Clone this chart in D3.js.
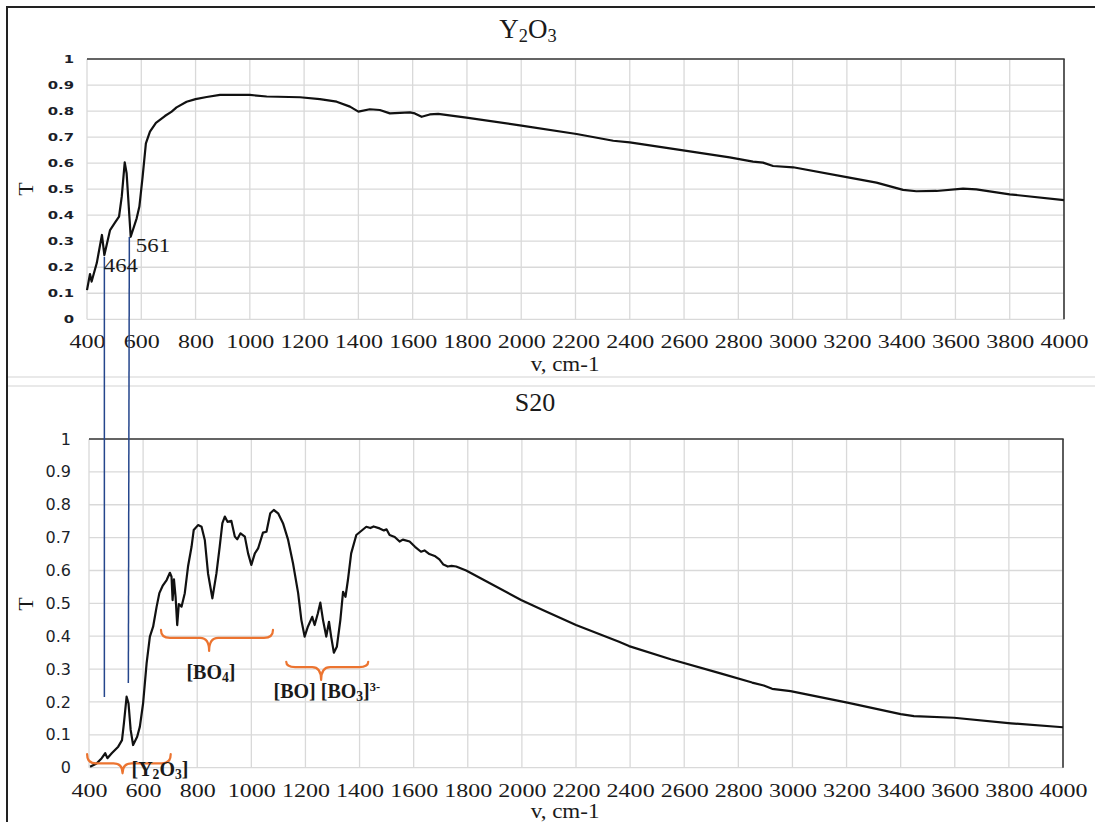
<!DOCTYPE html>
<html>
<head>
<meta charset="utf-8">
<script src="https://cdn.jsdelivr.net/npm/d3@7"></script>
<style>
  html, body { margin: 0; padding: 0; background: #fff; }
  svg { display: block; }
</style>
</head>
<body>
<svg id="chart" width="1095" height="822"></svg>
<script>
// ---------------- DATA ----------------
const xTicks = [400, 600, 800, 1000, 1200, 1400, 1600, 1800, 2000, 2200, 2400, 2600, 2800, 3000, 3200, 3400, 3600, 3800, 4000];
const yTicks = [0, 0.1, 0.2, 0.3, 0.4, 0.5, 0.6, 0.7, 0.8, 0.9, 1];
const yTickLabels = ["0", "0.1", "0.2", "0.3", "0.4", "0.5", "0.6", "0.7", "0.8", "0.9", "1"];

// Y2O3 spectrum: [wavenumber, T]
const y2o3 = [[400,0.112],[411,0.174],[417,0.145],[436,0.216],[455,0.324],[464,0.247],[485,0.343],[503,0.371],[518,0.394],[528,0.471],[539,0.603],[546,0.561],[561,0.317],[583,0.388],[593,0.433],[605,0.548],[617,0.676],[632,0.721],[654,0.755],[687,0.781],[712,0.798],[730,0.814],[767,0.836],[800,0.846],[841,0.854],[890,0.862],[1000,0.862],[1062,0.856],[1185,0.853],[1258,0.846],[1320,0.836],[1369,0.817],[1400,0.798],[1442,0.807],[1479,0.804],[1516,0.791],[1553,0.793],[1590,0.795],[1608,0.791],[1633,0.778],[1663,0.787],[1694,0.789],[1798,0.775],[2001,0.744],[2204,0.712],[2339,0.686],[2400,0.68],[2603,0.648],[2768,0.622],[2854,0.606],[2891,0.602],[2928,0.589],[3002,0.584],[3204,0.545],[3309,0.525],[3407,0.497],[3456,0.492],[3530,0.493],[3628,0.502],[3677,0.499],[3800,0.48],[4000,0.458]];

// S20 spectrum: [wavenumber, T]
const s20 = [[404,0.003],[428,0.013],[447,0.029],[460,0.044],[468,0.029],[484,0.044],[508,0.064],[522,0.084],[529,0.135],[539,0.216],[546,0.196],[554,0.115],[563,0.069],[578,0.094],[588,0.125],[600,0.196],[613,0.318],[625,0.399],[637,0.429],[650,0.49],[660,0.531],[672,0.553],[687,0.571],[699,0.593],[705,0.581],[709,0.51],[714,0.573],[720,0.52],[726,0.434],[732,0.498],[742,0.49],[754,0.531],[766,0.612],[779,0.672],[787,0.723],[803,0.738],[816,0.733],[828,0.693],[840,0.591],[856,0.515],[871,0.591],[883,0.672],[893,0.744],[902,0.764],[912,0.748],[926,0.751],[939,0.703],[948,0.695],[960,0.713],[976,0.703],[988,0.652],[1000,0.617],[1013,0.652],[1025,0.667],[1043,0.715],[1056,0.718],[1070,0.774],[1083,0.784],[1099,0.774],[1117,0.744],[1136,0.693],[1154,0.622],[1173,0.531],[1185,0.449],[1197,0.399],[1209,0.429],[1225,0.459],[1234,0.434],[1246,0.47],[1255,0.502],[1265,0.449],[1277,0.399],[1287,0.444],[1295,0.399],[1305,0.35],[1316,0.368],[1329,0.449],[1339,0.535],[1348,0.52],[1357,0.571],[1369,0.652],[1388,0.708],[1425,0.733],[1440,0.729],[1452,0.734],[1474,0.728],[1490,0.722],[1500,0.725],[1511,0.708],[1530,0.702],[1548,0.688],[1560,0.694],[1585,0.688],[1605,0.672],[1627,0.657],[1640,0.661],[1658,0.65],[1680,0.643],[1695,0.634],[1710,0.618],[1726,0.612],[1740,0.614],[1757,0.612],[1794,0.6],[1997,0.51],[2077,0.48],[2200,0.434],[2359,0.383],[2396,0.37],[2550,0.33],[2734,0.287],[2851,0.259],[2894,0.25],[2925,0.24],[2993,0.233],[3203,0.198],[3400,0.163],[3449,0.157],[3597,0.152],[3808,0.135],[4000,0.123]];

// connector lines (wavenumber, T on Y2O3 panel, T on S20 panel)
const connectors = [
  { v: 464, tTop: 0.240, tBottom: 0.215 },
  { v: 556, tTop: 0.316, tBottom: 0.258 }
];
// peak labels on the Y2O3 panel
const peakLabels = [
  { text: "464", v: 462, t: 0.182 },
  { text: "561", v: 580, t: 0.259 }
];
// braces on the S20 panel: start, end, tip wavenumber; end, bar, tip T
const braces = [
  { v0: 393, v1: 702, vt: 524, tEnd: 0.041, tBar: 0.013, tTip: -0.017 },
  { v0: 666, v1: 1080, vt: 844, tEnd: 0.419, tBar: 0.395, tTip: 0.355 },
  { v0: 1129, v1: 1432, vt: 1258, tEnd: 0.322, tBar: 0.306, tTip: 0.267 }
];
// brace labels
const braceLabels = [
  { parts: [["[Y", ""], ["2", "sub"], ["O", ""], ["3", "sub"], ["]", ""]], v: 557, t: -0.024 },
  { parts: [["[BO", ""], ["4", "sub"], ["]", ""]], v: 760, t: 0.270 },
  { parts: [["[BO] [BO", ""], ["3", "sub"], ["]", ""], ["3-", "sup"]], v: 1082, t: 0.212 }
];

// ---------------- CHART ----------------
const svg = d3.select("#chart");
const SERIF = "'Liberation Serif', 'Times New Roman', serif";
const SANS = "'DejaVu Sans', Verdana, sans-serif";

// frame
svg.append("line").attr("x1", 7).attr("x2", 7).attr("y1", 7).attr("y2", 822).attr("stroke", "#222").attr("stroke-width", 2);
svg.append("line").attr("x1", 6).attr("x2", 1095).attr("y1", 7).attr("y2", 7).attr("stroke", "#222").attr("stroke-width", 2);
[377, 386].forEach(y => svg.append("line").attr("x1", 8).attr("x2", 1095).attr("y1", y).attr("y2", y).attr("stroke", "#e2e2e2").attr("stroke-width", 1.5));

const panels = [
  { data: y2o3, x: d3.scaleLinear([400, 4000], [87, 1064]), y: d3.scaleLinear([0, 1], [319.3, 59]),
    title: [["Y", ""], ["2", "sub"], ["O", ""], ["3", "sub"]], titleX: 528, titleY: 38, titleSize: 27,
    axisTitleY: 371, tLabelY: 189, yPad: 13, yFont: 11, yBold: true, yScaleX: 1.35, xPad: 16 },
  { data: s20, x: d3.scaleLinear([400, 4000], [89, 1063]), y: d3.scaleLinear([0, 1], [767.7, 439]),
    title: [["S20", ""]], titleX: 535, titleY: 411, titleSize: 26,
    axisTitleY: 818, tLabelY: 604, yPad: 18, yFont: 16, yBold: false, yScaleX: 1.0, xPad: 16.5 }
];

function addRichText(sel, parts, size) {
  let shift = 0;
  parts.forEach(([txt, kind]) => {
    const ts = sel.append("tspan").text(txt);
    if (kind === "sub") { ts.attr("font-size", size * 0.68).attr("dy", size * 0.16 - shift); shift = size * 0.16; }
    else if (kind === "sup") { ts.attr("font-size", size * 0.62).attr("dy", -size * 0.36 - shift); shift = -size * 0.36; }
    else { ts.attr("dy", -shift); shift = 0; }
  });
}

panels.forEach(p => {
  const [x0, x1] = p.x.range();
  const [yb, yt] = p.y.range();
  const g = svg.append("g");

  // grid
  g.append("g").selectAll("line").data(xTicks).join("line")
    .attr("x1", d => p.x(d)).attr("x2", d => p.x(d)).attr("y1", yt).attr("y2", yb)
    .attr("stroke", "#d9d9d9").attr("stroke-width", 1.3);
  g.append("g").selectAll("line").data(yTicks).join("line")
    .attr("x1", x0).attr("x2", x1).attr("y1", d => p.y(d)).attr("y2", d => p.y(d))
    .attr("stroke", "#d9d9d9").attr("stroke-width", 1.3);

  // dark top and right borders
  g.append("line").attr("x1", x0).attr("x2", x1 + 0.7).attr("y1", yt).attr("y2", yt).attr("stroke", "#3a3a3a").attr("stroke-width", 1.6);
  g.append("line").attr("x1", x1).attr("x2", x1).attr("y1", yt).attr("y2", yb).attr("stroke", "#3a3a3a").attr("stroke-width", 1.6);

  // x axis
  const xa = g.append("g").attr("transform", `translate(0,${yb})`)
    .call(d3.axisBottom(p.x).tickValues(xTicks).tickSize(0).tickPadding(p.xPad).tickFormat(d3.format("d")));
  xa.select(".domain").remove();
  xa.selectAll("text").attr("font-family", SERIF).attr("font-size", 18.5).attr("fill", "#1a1a1a")
    .attr("transform", "scale(1.3,1)");

  // y axis
  const ya = g.append("g").attr("transform", `translate(${x0},0)`)
    .call(d3.axisLeft(p.y).tickValues(yTicks).tickSize(0).tickPadding(0).tickFormat((d, i) => yTickLabels[i]));
  ya.select(".domain").remove();
  ya.selectAll("text").attr("x", 0).attr("font-family", SANS).attr("font-size", p.yFont)
    .attr("font-weight", p.yBold ? "bold" : "normal").attr("fill", "#1c1f2a")
    .attr("transform", `translate(${-p.yPad},0) scale(${p.yScaleX},1)`);

  // curve
  g.append("path").datum(p.data)
    .attr("d", d3.line().x(d => p.x(d[0])).y(d => p.y(d[1])))
    .attr("fill", "none").attr("stroke", "#111").attr("stroke-width", 2.2).attr("stroke-linejoin", "round");

  // titles
  const tt = g.append("text").attr("x", p.titleX).attr("y", p.titleY).attr("text-anchor", "middle")
    .attr("font-family", SERIF).attr("font-size", p.titleSize).attr("fill", "#1a1a1a");
  addRichText(tt, p.title, p.titleSize);

  g.append("text").attr("transform", `translate(565,${p.axisTitleY}) scale(1.15,1)`).attr("text-anchor", "middle")
    .attr("font-family", SERIF).attr("font-size", 20).attr("fill", "#1a1a1a").text("v, cm-1");

  g.append("text").attr("transform", `translate(33,${p.tLabelY}) rotate(-90)`).attr("text-anchor", "middle")
    .attr("font-family", SERIF).attr("font-size", 22).attr("fill", "#1a1a1a").text("T");
});

const P0 = panels[0], P1 = panels[1];

// connector lines
svg.append("g").selectAll("line").data(connectors).join("line")
  .attr("x1", d => P0.x(d.v)).attr("x2", d => P0.x(d.v) - (d.v > 500 ? 1 : 0))
  .attr("y1", d => P0.y(d.tTop)).attr("y2", d => P1.y(d.tBottom))
  .attr("stroke", "#25468c").attr("stroke-width", 1.5);

// peak labels
svg.append("g").selectAll("text").data(peakLabels).join("text")
  .attr("transform", d => `translate(${P0.x(d.v)},${P0.y(d.t)}) scale(1.2,1)`)
  .attr("font-family", SERIF).attr("font-size", 19).attr("fill", "#1a1a1a").text(d => d.text);

// braces
function bracePath(b) {
  const xa = P1.x(b.v0), xb = P1.x(b.v1), xt = P1.x(b.vt);
  const ye = P1.y(b.tEnd), yh = P1.y(b.tBar), yp = P1.y(b.tTip);
  const r = 9;
  return `M${xa},${ye} Q${xa},${yh} ${xa + r},${yh} L${xt - r},${yh} Q${xt},${yh} ${xt},${yp} ` +
         `Q${xt},${yh} ${xt + r},${yh} L${xb - r},${yh} Q${xb},${yh} ${xb},${ye}`;
}
svg.append("g").selectAll("path").data(braces).join("path")
  .attr("d", bracePath).attr("fill", "none").attr("stroke", "#ec7430").attr("stroke-width", 2.2)
  .attr("stroke-linejoin", "round").attr("stroke-linecap", "round");

// brace labels
braceLabels.forEach(b => {
  const t = svg.append("text").attr("x", P1.x(b.v)).attr("y", P1.y(b.t))
    .attr("font-family", SERIF).attr("font-weight", "bold").attr("font-size", 20).attr("fill", "#1a1a1a");
  addRichText(t, b.parts, 20);
});
</script>
</body>
</html>
